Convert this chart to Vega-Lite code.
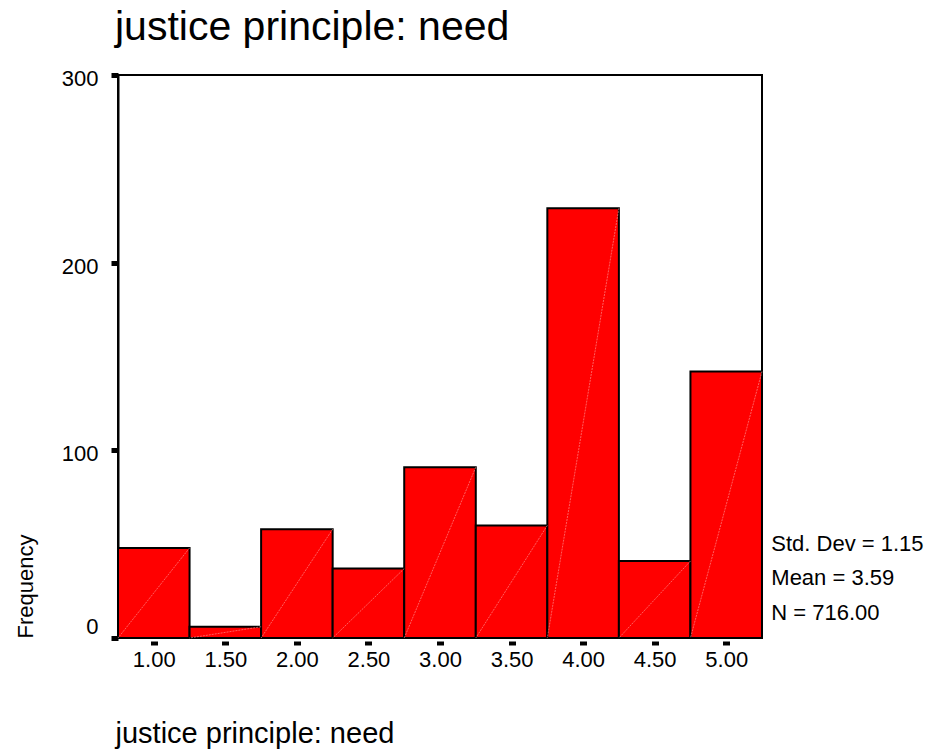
{
  "$schema": "https://vega.github.io/schema/vega-lite/v6.json",
  "width": 644,
  "height": 563,
  "autosize": "none",
  "padding": {"left": 118, "top": 75, "right": 172, "bottom": 114},
  "background": "white",
  "config": {
    "font": "Liberation Sans",
    "view": {"stroke": "black", "strokeWidth": 2},
    "axis": {"labelFont": "Liberation Sans", "titleFont": "Liberation Sans", "grid": false}
  },
  "title": {
    "text": "justice principle: need",
    "anchor": "start",
    "frame": "group",
    "fontSize": 41,
    "fontWeight": "normal",
    "font": "Liberation Sans",
    "color": "black",
    "dx": -3,
    "offset": 19
  },
  "datasets": {
    "bins": [
      {"value": 1.0, "start": 0.75, "end": 1.25, "count": 48},
      {"value": 1.5, "start": 1.25, "end": 1.75, "count": 6},
      {"value": 2.0, "start": 1.75, "end": 2.25, "count": 58},
      {"value": 2.5, "start": 2.25, "end": 2.75, "count": 37},
      {"value": 3.0, "start": 2.75, "end": 3.25, "count": 91},
      {"value": 3.5, "start": 3.25, "end": 3.75, "count": 60},
      {"value": 4.0, "start": 3.75, "end": 4.25, "count": 229},
      {"value": 4.5, "start": 4.25, "end": 4.75, "count": 41},
      {"value": 5.0, "start": 4.75, "end": 5.25, "count": 142}
    ],
    "stats": [
      {"label": "Std. Dev = 1.15", "sx": 5.315, "sy": 46.5},
      {"label": "Mean = 3.59", "sx": 5.315, "sy": 28.2},
      {"label": "N = 716.00", "sx": 5.315, "sy": 9.6}
    ]
  },
  "layer": [
    {
      "data": {"name": "bins"},
      "mark": {"type": "rect", "fill": "#ff0000", "stroke": "black", "strokeWidth": 2},
      "encoding": {
        "x": {
          "field": "start",
          "type": "quantitative",
          "scale": {"domain": [0.75, 5.25], "nice": false, "zero": false},
          "axis": {
            "values": [1, 1.5, 2, 2.5, 3, 3.5, 4, 4.5, 5],
            "format": ".2f",
            "domain": false,
            "offset": 3,
            "tickSize": 4,
            "tickWidth": 7,
            "tickColor": "black",
            "labelFontSize": 22,
            "labelColor": "black",
            "labelPadding": 4,
            "title": "justice principle: need",
            "titleFontSize": 29,
            "titleFontWeight": "normal",
            "titleColor": "black",
            "titleAnchor": "start",
            "titleAlign": "left",
            "titleBaseline": "alphabetic",
            "titleX": -3,
            "titleY": 101
          }
        },
        "x2": {"field": "end"},
        "y": {
          "field": "count",
          "type": "quantitative",
          "scale": {"domain": [0, 300], "nice": false},
          "axis": {
            "values": [0, 100, 200, 300],
            "domainColor": "black",
            "domainWidth": 2,
            "tickSize": 7,
            "tickWidth": 5,
            "tickColor": "black",
            "labelFontSize": 22,
            "labelColor": "black",
            "labelPadding": 13,
            "labelOffset": {"condition": {"test": "datum.value === 0", "value": -12}, "value": 3.5},
            "title": "Frequency",
            "titleFontSize": 22,
            "titleFontWeight": "normal",
            "titleColor": "black",
            "titleAngle": -90,
            "titleAnchor": "start",
            "titleAlign": "left",
            "titleBaseline": "alphabetic",
            "titleX": -86,
            "titleY": 563
          }
        },
        "y2": {"datum": 0}
      }
    },
    {
      "data": {"name": "bins"},
      "mark": {"type": "rule", "color": "#ffa0a0", "strokeWidth": 0.6, "strokeDash": [2, 1]},
      "encoding": {
        "x": {"field": "end", "type": "quantitative"},
        "x2": {"field": "start"},
        "y": {"field": "count", "type": "quantitative"},
        "y2": {"datum": 0}
      }
    },
    {
      "data": {"name": "stats"},
      "mark": {"type": "text", "align": "left", "baseline": "alphabetic", "fontSize": 22, "color": "black", "clip": false},
      "encoding": {
        "x": {"field": "sx", "type": "quantitative"},
        "y": {"field": "sy", "type": "quantitative"},
        "text": {"field": "label"}
      }
    }
  ]
}
